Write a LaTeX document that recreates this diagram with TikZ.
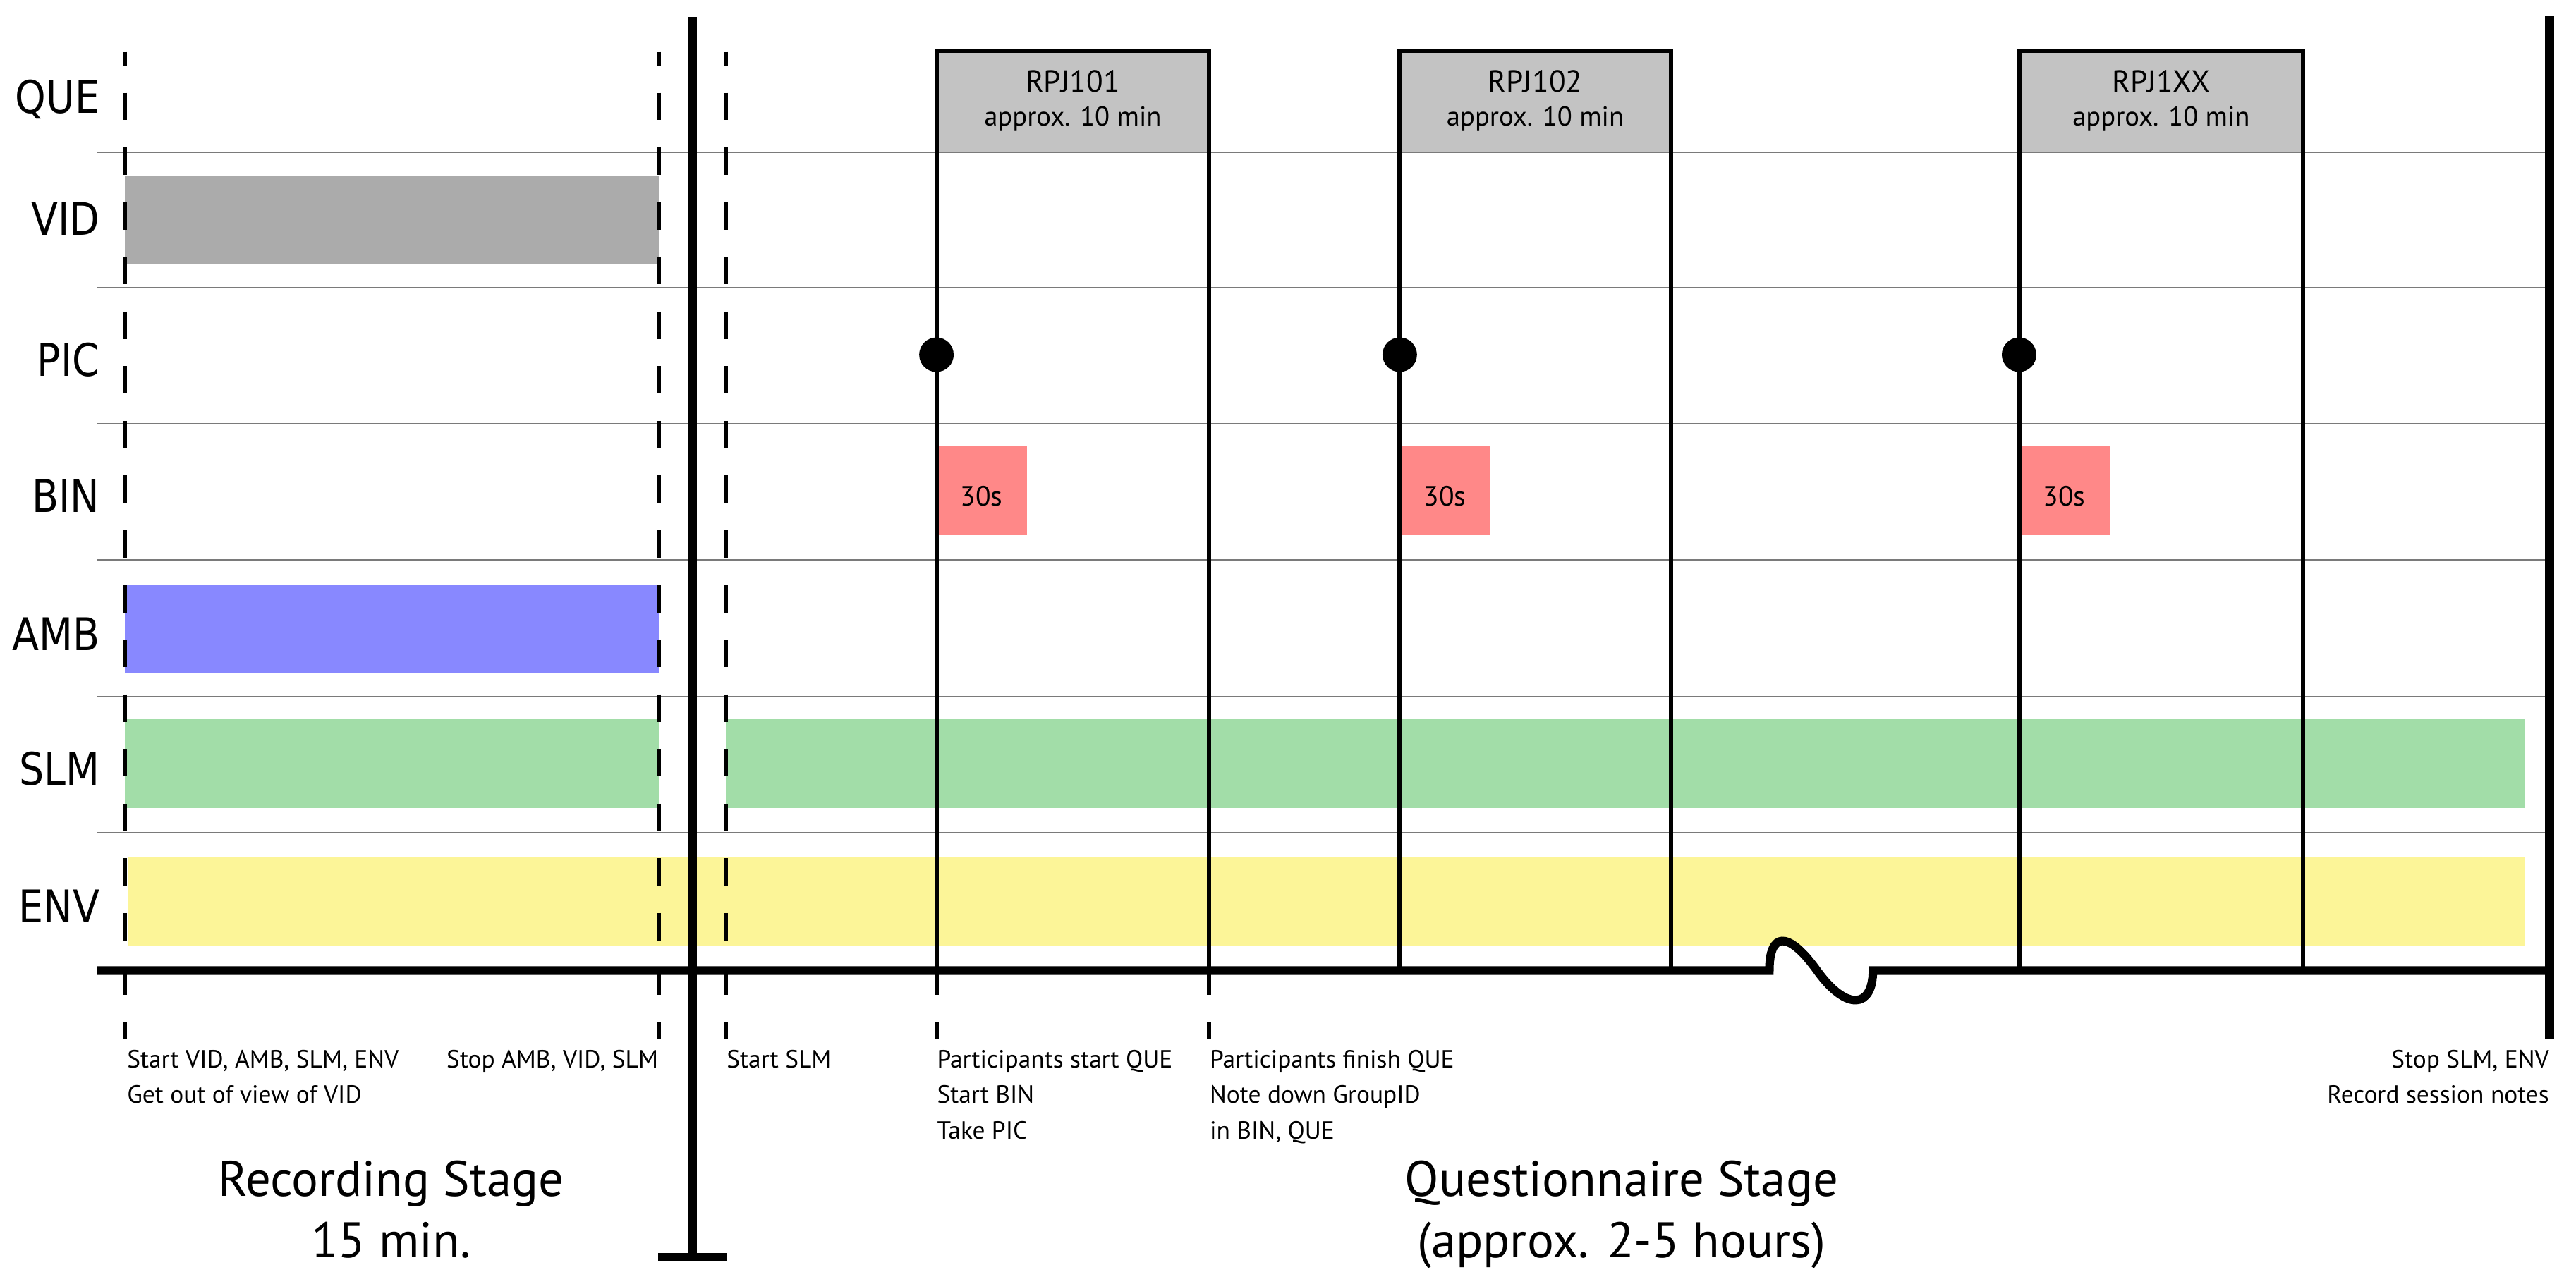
\documentclass[tikz,border=0pt]{standalone}
\usepackage{fontspec}
\setmainfont{PT Sans}
\newfontfamily\rowfont{DejaVu Sans}[FakeStretch=0.87]
\definecolor{vidgray}{HTML}{ABABAB}
\definecolor{ambblue}{HTML}{8888FF}
\definecolor{slmgreen}{HTML}{A2DDA8}
\definecolor{envyellow}{HTML}{FCF598}
\definecolor{binred}{HTML}{FF8888}
\definecolor{quegray}{HTML}{C3C3C3}
\definecolor{linegray}{HTML}{7A7A7A}
\tikzset{
  rowline/.style={draw=linegray, line width=0.36pt},
  evline/.style={line width=1.3pt},
  evdash/.style={line width=1.3pt, dash pattern=on 8.35pt off 8.3pt, dash phase=4.2pt},
  picdot/.style={circle, fill=black, inner sep=0pt, minimum size=10.5pt},
  rowlabel/.style={anchor=base east, inner sep=0pt, font=\rowfont\fontsize{13.7}{16}\selectfont},
  evnote/.style={inner sep=0pt, font=\fontsize{7.6}{10.8}\selectfont},
  stage/.style={anchor=north, inner sep=0pt, align=center, font=\fontsize{15.2}{18.5}\selectfont},
}
\begin{document}
\begin{tikzpicture}[x=0.5pt,y=-0.5pt]
\useasboundingbox (0,0) rectangle (1568,781.85);
\fill[white] (0,0) rectangle (1568,781.85);

% channel bars
\fill[vidgray] (76,107) rectangle (401,161);
\fill[ambblue] (76,356) rectangle (401,410);
\fill[slmgreen] (76,438) rectangle (401,492);
\fill[slmgreen] (442,438) rectangle (1537,492);
\fill[envyellow] (78,522) rectangle (1537,576);
\foreach \xa/\xb/\id in {570/736/101, 852/1017/102, 1229/1402/1XX}{
  \fill[quegray] (\xa,31) rectangle (\xb,93);
  \fill[binred] (\xa,272) rectangle ({\xa+55},326);
}

\foreach \y in {93,175,258,341,424,507}
  \draw[rowline] (59,\y) -- (1550,\y);

\foreach \lab/\yb in {QUE/69,VID/143,PIC/229,BIN/312,AMB/396,SLM/478,ENV/562}
  \node[rowlabel] (\lab) at (61,\yb) {\lab};

% event markers
\foreach \x in {76,401,442,570,736}
  \draw[evdash] (\x,31.6) -- (\x,633);

\foreach \xa/\xb/\id in {570/736/101, 852/1017/102, 1229/1402/1XX}{
  \draw[evline, line join=miter] (\xa,591) -- (\xa,31) -- (\xb,31) -- (\xb,591);
  \node[picdot] (pic\id) at (\xa,216) {};
  \node[anchor=base, inner sep=0pt, font=\fontsize{9.3}{11}\selectfont] (rpj\id) at ({(\xa+\xb)/2},56) {RPJ\id};
  \node[anchor=base, inner sep=0pt, font=\fontsize{8.3}{9}\selectfont] (dur\id) at ({(\xa+\xb)/2},76.7) {approx. 10 min};
  \node[anchor=base, inner sep=0pt, font=\fontsize{8.5}{9}\selectfont] (bin\id) at ({\xa+27.5},308) {30s};
}

% time axis with break
\draw[line width=2.6pt] (59,591) -- (1077,591) .. controls (1077,568) and (1088,566) .. (1106,591)
  .. controls (1124,616) and (1140,614) .. (1140,591) -- (1552,591);
\draw[line width=2.6pt] (421.6,10.5) -- (421.6,765.5);
\draw[line width=2.5pt] (400.6,765.5) -- (442.7,765.5);
\draw[line width=2.7pt] (1552,10) -- (1552,633);

\node[evnote, anchor=north west, align=left] (n1) at (77,639) {Start VID, AMB, SLM, ENV\\Get out of view of VID};
\node[evnote, anchor=north east, align=right] (n2) at (401,639) {Stop AMB, VID, SLM};
\node[evnote, anchor=north west] (n3) at (442,639) {Start SLM};
\node[evnote, anchor=north west, align=left] (n4) at (570,639) {Participants start QUE\\Start BIN\\Take PIC};
\node[evnote, anchor=north west, align=left] (n5) at (736,639) {Participants finish QUE\\Note down GroupID\\in BIN, QUE};
\node[evnote, anchor=north east, align=right] (n6) at (1552,639) {Stop SLM, ENV\\Record session notes};

\node[stage] (rec) at (238,706.5) {Recording Stage\\15 min.};
\node[stage] (quest) at (987,706.5) {Questionnaire Stage\\(approx. 2-5 hours)};
\end{tikzpicture}
\end{document}
